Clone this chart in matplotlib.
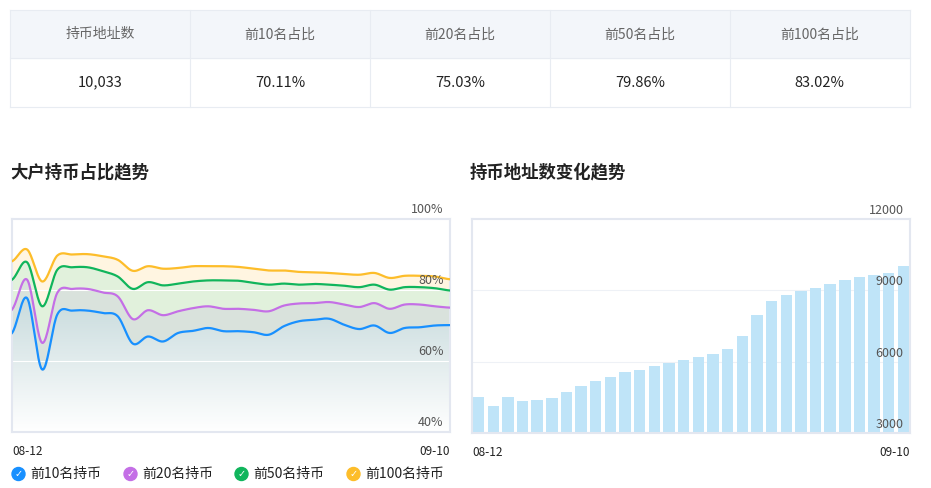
import numpy as np
import matplotlib
matplotlib.use("Agg")
import matplotlib.pyplot as plt
from matplotlib.colors import LinearSegmentedColormap

plt.rcParams['font.family'] = ['Noto Sans CJK SC', 'DejaVu Sans']

table_headers = ["持币地址数", "前10名占比", "前20名占比", "前50名占比", "前100名占比"]
table_values = ["10,033", "70.11%", "75.03%", "79.86%", "83.02%"]

top10 = [67.9, 77.7, 57.6, 73.1, 74.2, 74.2, 73.5, 72.6, 64.9, 66.9, 65.5, 67.9, 68.5, 69.3, 68.4,
         68.4, 68.1, 67.4, 69.8, 71.2, 71.6, 71.9, 70.2, 69.0, 70.0, 67.9, 69.3, 69.5, 70.0, 70.11]
top20 = [74.5, 82.9, 65.1, 79.2, 80.3, 80.3, 79.3, 78.2, 71.8, 74.3, 72.9, 74.0, 74.9, 75.4, 74.7,
         74.7, 74.4, 74.0, 75.6, 76.2, 76.3, 76.6, 75.9, 75.2, 76.3, 74.7, 75.9, 75.9, 75.4, 75.03]
top50 = [82.9, 87.8, 75.4, 85.7, 86.4, 86.4, 85.3, 83.8, 80.3, 82.2, 81.3, 81.8, 82.4, 82.7, 82.7,
         82.6, 82.0, 81.5, 81.8, 81.5, 81.7, 81.5, 81.2, 80.8, 81.5, 80.1, 80.8, 80.8, 80.5, 79.86]
top100 = [88.1, 91.4, 82.4, 89.7, 90.0, 90.1, 89.5, 88.5, 85.4, 86.7, 86.0, 86.2, 86.7, 86.7, 86.7,
          86.5, 86.0, 85.5, 85.5, 85.1, 85.0, 84.8, 84.5, 84.3, 84.8, 83.4, 84.0, 84.0, 83.8, 83.02]
holders = [4518, 4125, 4504, 4350, 4378, 4490, 4715, 4983, 5180, 5362, 5559, 5657, 5812, 5924, 6065,
           6192, 6332, 6543, 7092, 7963, 8540, 8793, 8962, 9102, 9271, 9440, 9552, 9650, 9721, 10033]
x_labels = ["08-12", "09-10"]
legend_names = ["前10名持币", "前20名持币", "前50名持币", "前100名持币"]
colors = ["#1890ff", "#c46fe6", "#10b55c", "#fdbd2a"]

def smooth(y, n=20):
    y = np.asarray(y, float)
    p = np.concatenate([[y[0]], y, [y[-1]]])
    xs, ys = [], []
    t = np.linspace(0, 1, n, endpoint=False)
    for i in range(1, len(p) - 2):
        p0, p1, p2, p3 = p[i-1], p[i], p[i+1], p[i+2]
        v = 0.5 * ((2*p1) + (-p0+p2)*t + (2*p0-5*p1+4*p2-p3)*t**2 + (-p0+3*p1-3*p2+p3)*t**3)
        xs.append(i - 1 + t); ys.append(v)
    xs.append([len(y) - 1]); ys.append([y[-1]])
    return np.concatenate(xs), np.concatenate(ys)

W, H = 931, 488
fig = plt.figure(figsize=(W/100, H/100), dpi=100)

def fx(px): return px / W
def fy(py): return 1 - py / H

# table
tab = fig.add_axes([fx(10), fy(107), fx(900), (97)/H])
tab.set_xlim(-0.002, 5.002); tab.set_ylim(-0.01, 2.01); tab.axis('off')
tab.add_patch(plt.Rectangle((0, 1), 5, 1, color="#f3f6fa", zorder=0))
for i in range(6):
    tab.plot([i, i], [0, 2], color="#e8ecf2", lw=0.8, clip_on=False)
for j in range(3):
    tab.plot([0, 5], [j, j], color="#e8ecf2", lw=0.8, clip_on=False)
for i, (h, v) in enumerate(zip(table_headers, table_values)):
    tab.text(i + 0.5, 1.5, h, ha='center', va='center', fontsize=10, color="#666666")
    tab.text(i + 0.5, 0.5, v, ha='center', va='center', fontsize=10.5, color="#222222")

fig.text(fx(10), fy(172), "大户持币占比趋势", fontsize=12.5, fontweight='bold', va='center', color="#222")
fig.text(fx(470), fy(172), "持币地址数变化趋势", fontsize=12.5, fontweight='bold', va='center', color="#222")

frame_c = "#e3e7f0"
# left chart
ax = fig.add_axes([fx(12), fy(432), fx(438), 213/H])
n = len(top10)
ax.set_xlim(0, n - 1); ax.set_ylim(40, 100)
sx, s10 = smooth(top10); _, s20 = smooth(top20); _, s50 = smooth(top50); _, s100 = smooth(top100)
cmap = LinearSegmentedColormap.from_list("g", ["#ffffff", "#c5d9db"])
grad = np.linspace(0, 1, 256).reshape(-1, 1)
im = ax.imshow(grad, extent=[0, n - 1, 40, 80], origin='lower', aspect='auto', cmap=cmap, zorder=1)
poly = ax.fill_between(sx, 40, s10, color='none')
im.set_clip_path(poly.get_paths()[0], transform=ax.transData)
ax.fill_between(sx, s10, s20, color="#d9e2dc", zorder=1)
ax.fill_between(sx, s20, s50, color="#e1f1dc", zorder=1)
ax.fill_between(sx, s50, s100, color="#fff5e1", zorder=1)
for c, s in zip(colors, [s10, s20, s50, s100]):
    ax.plot(sx, s, color=c, lw=1.6, zorder=3)
for v in [60, 80]:
    ax.axhline(v, color="white", lw=0.8, zorder=2)
for v in [40, 60, 80, 100]:
    ax.text(0.985, v + 0.8, f"{v}%", transform=ax.get_yaxis_transform(), ha='right', va='bottom',
            fontsize=9, color="#555", zorder=4)
ax.set_xticks([]); ax.set_yticks([])
for sp in ax.spines.values():
    sp.set_color(frame_c); sp.set_linewidth(1.5)
ax.text(0, -0.06, x_labels[0], transform=ax.transAxes, ha='left', va='top', fontsize=8.5, color="#222")
ax.text(1, -0.06, x_labels[1], transform=ax.transAxes, ha='right', va='top', fontsize=8.5, color="#222")

# legend
lx = [18, 130, 241, 353]
for x0, c, name in zip(lx, colors, legend_names):
    fig.patches.append(matplotlib.patches.Circle((x0 + 0.5, 488 - 474), 6.5, transform=None,
                       color=c))
    fig.text(fx(x0 + 0.5), fy(474), "✓", ha='center', va='center', fontsize=7, color='white',
             fontweight='bold', family='DejaVu Sans')
    fig.text(fx(x0 + 12), fy(474), name, ha='left', va='center', fontsize=10, color="#222")

# right chart
bx = fig.add_axes([fx(472), fy(433), fx(438), 214/H])
xs = np.arange(len(holders))
bx.bar(xs, holders, width=0.78, color="#bfe4f8", zorder=2)
bx.set_xlim(-0.45, len(holders) - 0.55); bx.set_ylim(3000, 12000)
for v in [6000, 9000]:
    bx.axhline(v, color="#eef1f6", lw=0.8, zorder=1)
for v in [3000, 6000, 9000, 12000]:
    bx.text(0.985, v + 80, str(v), transform=bx.get_yaxis_transform(), ha='right', va='bottom',
            fontsize=9, color="#555", zorder=4)
bx.set_xticks([]); bx.set_yticks([])
for sp in bx.spines.values():
    sp.set_color(frame_c); sp.set_linewidth(1.5)
bx.text(0, -0.06, x_labels[0], transform=bx.transAxes, ha='left', va='top', fontsize=8.5, color="#222")
bx.text(1, -0.06, x_labels[1], transform=bx.transAxes, ha='right', va='top', fontsize=8.5, color="#222")

fig.savefig("out.png", dpi=100)
